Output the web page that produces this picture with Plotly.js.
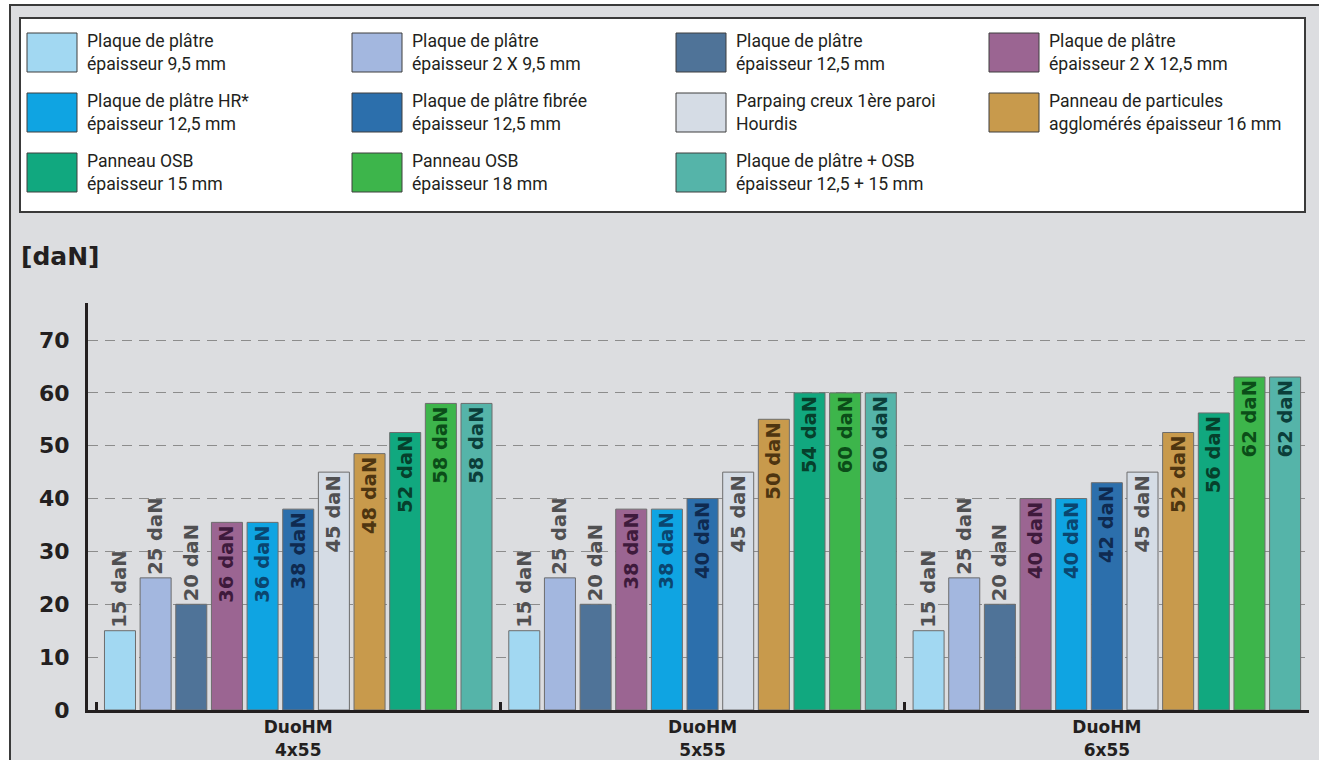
<!DOCTYPE html>
<html><head><meta charset="utf-8">
<script src="https://cdn.plot.ly/plotly-3.0.1.min.js"></script>
<style>
html,body{margin:0;padding:0;background:#ffffff;overflow:hidden;}
#bg{position:absolute;left:9px;top:4px;width:1330px;height:780px;background:#dcdde0;border-left:2px solid #3a3a3a;border-top:2px solid #3a3a3a;}
#chart{position:absolute;left:0;top:0;width:1319px;height:760px;}
</style></head><body><div id="bg"></div><div id="chart"></div>
<script>
// ---- data ----
const categories = ['DuoHM<br>4x55', 'DuoHM<br>5x55', 'DuoHM<br>6x55'];

const seriesNames = [
  'Plaque de plâtre<br>épaisseur 9,5 mm',
  'Plaque de plâtre<br>épaisseur 2 X 9,5 mm',
  'Plaque de plâtre<br>épaisseur 12,5 mm',
  'Plaque de plâtre<br>épaisseur 2 X 12,5 mm',
  'Plaque de plâtre HR*<br>épaisseur 12,5 mm',
  'Plaque de plâtre fibrée<br>épaisseur 12,5 mm',
  'Parpaing creux 1ère paroi<br>Hourdis',
  'Panneau de particules<br>agglomérés épaisseur 16 mm',
  'Panneau OSB<br>épaisseur 15 mm',
  'Panneau OSB<br>épaisseur 18 mm',
  'Plaque de plâtre + OSB<br>épaisseur 12,5 + 15 mm'
];

// bar heights as drawn
const plaque95      = [15, 15, 15];
const plaque2x95    = [25, 25, 25];
const plaque125     = [20, 20, 20];
const plaque2x125   = [35.5, 38, 40];
const plaqueHR      = [35.5, 38, 40];
const plaqueFibree  = [38, 40, 43];
const parpaing      = [45, 45, 45];
const particules    = [48.5, 55, 52.5];
const osb15         = [52.5, 60, 56.2];
const osb18         = [58, 60, 63];
const plaqueOsb     = [58, 60, 63];

// printed labels (daN)
const lab95      = [15, 15, 15];
const lab2x95    = [25, 25, 25];
const lab125     = [20, 20, 20];
const lab2x125   = [36, 38, 40];
const labHR      = [36, 38, 40];
const labFibree  = [38, 40, 42];
const labParp    = [45, 45, 45];
const labPart    = [48, 50, 52];
const labOsb15   = [52, 54, 56];
const labOsb18   = [58, 60, 62];
const labPlOsb   = [58, 60, 62];

const tickVals = [0, 10, 20, 30, 40, 50, 60, 70];

// ---- styling ----
const values = [plaque95, plaque2x95, plaque125, plaque2x125, plaqueHR, plaqueFibree, parpaing, particules, osb15, osb18, plaqueOsb];
const labels = [lab95, lab2x95, lab125, lab2x125, labHR, labFibree, labParp, labPart, labOsb15, labOsb18, labPlOsb];
const colors = ['#a2d8f2', '#a3b7df', '#4f7398', '#9b6592', '#0fa4e2', '#2c6fac', '#d5dce5', '#c89a4c', '#11a87f', '#3db54b', '#55b4a9'];
const textColors = ['#505052', '#505052', '#505052', '#3e1a3c', '#0a4670', '#0f2a50', '#505052', '#4e3510', '#06402c', '#0b4d18', '#0b3e3a'];
const textPos = ['outside', 'outside', 'outside', 'inside', 'inside', 'inside', 'inside', 'inside', 'inside', 'inside', 'inside'];

const traces = values.map((v, i) => ({
  type: 'bar',
  name: seriesNames[i],
  x: categories,
  y: v,
  text: labels[i].map(n => n + ' daN'),
  textposition: textPos[i],
  insidetextanchor: 'end',
  textangle: -90,
  constraintext: 'none',
  cliponaxis: false,
  textfont: {family: 'DejaVu Sans', size: 19.5, weight: 'bold', color: textColors[i]},
  marker: {color: colors[i], line: {color: '#6d6d6d', width: 1}},
  showlegend: false,
  hoverinfo: 'skip'
}));

const W = 1319, H = 760, L = 88, R = 10, T = 303, B = 50;
const pw = W - L - R, ph = H - T - B;
const px = x => (x - L) / pw;
const py = y => (H - B - y) / ph;

const shapes = [{
  type: 'rect', xref: 'paper', yref: 'paper',
  x0: px(20), x1: px(1305), y0: py(212), y1: py(18),
  fillcolor: '#ffffff', line: {color: '#3a3a3a', width: 2}, layer: 'above'
}];
const annotations = [];
const colLeft = [27, 352, 676, 989];
const rowTop = [33, 93, 153];
seriesNames.forEach((nm, i) => {
  const c = i % 4, r = Math.floor(i / 4);
  const x0 = colLeft[c], y0 = rowTop[r];
  shapes.push({
    type: 'rect', xref: 'paper', yref: 'paper',
    x0: px(x0), x1: px(x0 + 50), y0: py(y0 + 39), y1: py(y0),
    fillcolor: colors[i], line: {color: '#3f3f3f', width: 1}, layer: 'above'
  });
  annotations.push({
    xref: 'paper', yref: 'paper', x: px(x0 + 58), y: py(y0 + 19.5),
    xanchor: 'left', yanchor: 'middle', align: 'left', showarrow: false,
    text: nm, font: {family: 'Roboto, Liberation Sans, sans-serif', size: 17.6, color: '#231f20'}
  });
});

const layout = {
  width: W, height: H,
  margin: {l: L, r: R, t: T, b: B, pad: 0},
  paper_bgcolor: 'rgba(0,0,0,0)',
  plot_bgcolor: 'rgba(0,0,0,0)',
  barmode: 'group',
  bargap: 0.03,
  bargroupgap: 0.13,
  title: {
    text: '[daN]', xref: 'container', yref: 'container',
    x: 21 / W, xanchor: 'left', y: 1 - 256 / H, yanchor: 'middle',
    font: {family: 'DejaVu Sans', size: 25, weight: 'bold', color: '#231f20'}
  },
  xaxis: {
    type: 'category', range: [-0.52, 2.5],
    showline: true, linecolor: '#231f20', linewidth: 3,
    ticks: 'inside', tickson: 'boundaries', ticklen: 8, tickwidth: 3, tickcolor: '#231f20',
    showgrid: false, zeroline: false,
    tickfont: {family: 'DejaVu Sans', size: 17, weight: 'bold', color: '#231f20'}
  },
  yaxis: {
    range: [0, 77], tickmode: 'array', tickvals: tickVals,
    showline: true, linecolor: '#231f20', linewidth: 3,
    showgrid: true, gridcolor: '#8c8c8c', gridwidth: 1, griddash: '10px,7px',
    zeroline: false, ticks: '', ticklabelstandoff: 11,
    tickfont: {family: 'DejaVu Sans', size: 22, weight: 'bold', color: '#231f20'}
  },
  shapes: shapes,
  annotations: annotations
};

Plotly.newPlot('chart', traces, layout, {displayModeBar: false, staticPlot: true});
</script></body></html>
